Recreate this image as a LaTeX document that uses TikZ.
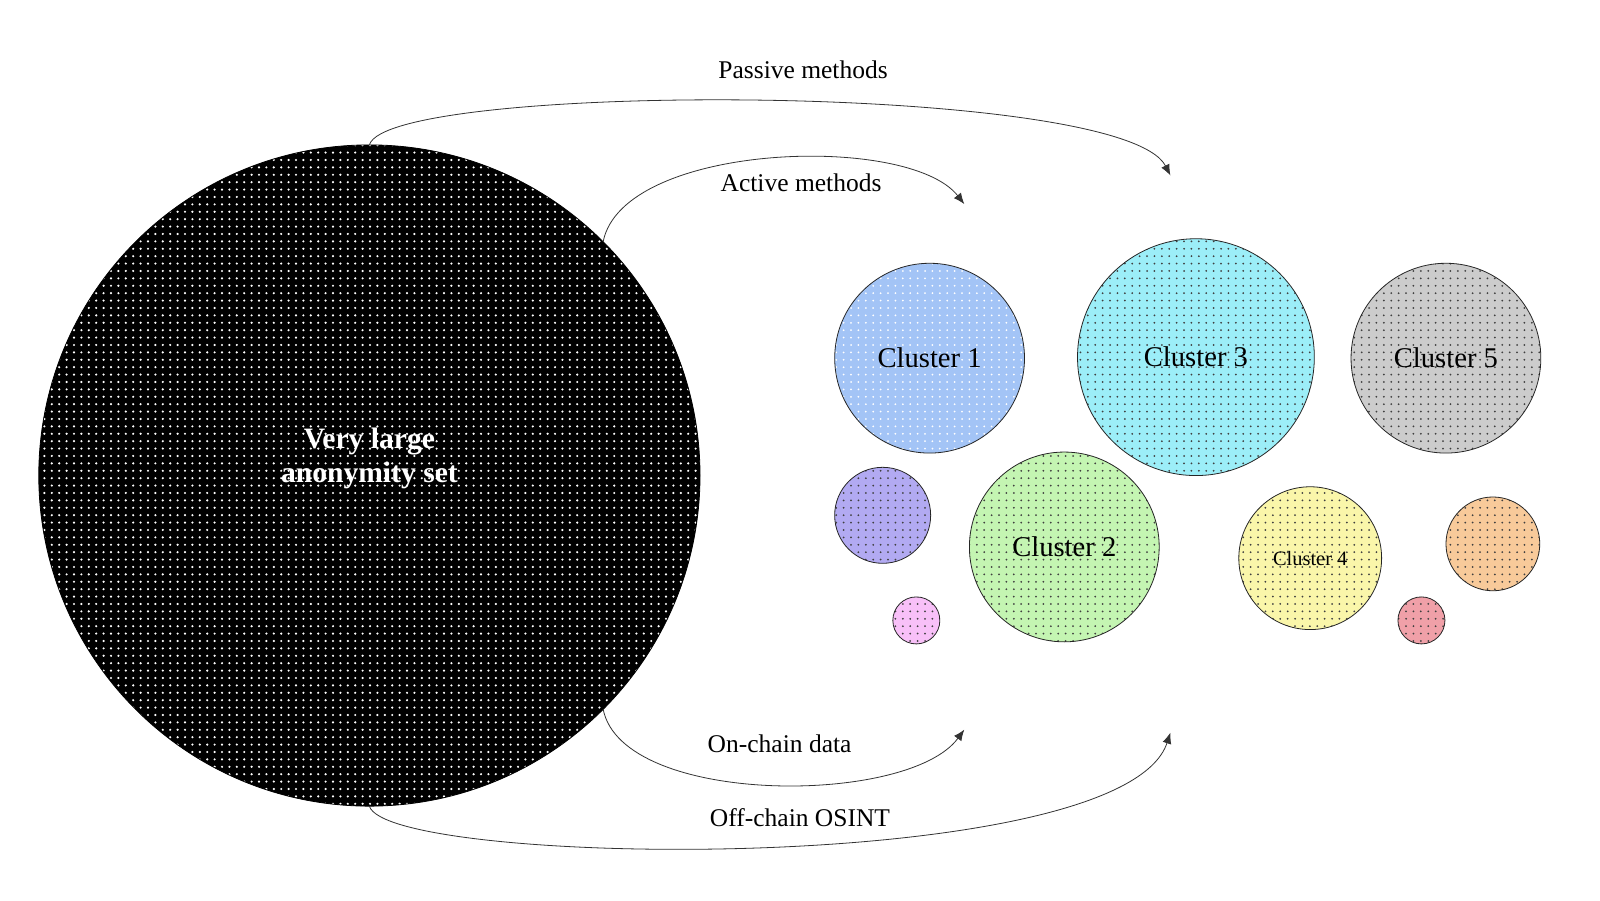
\documentclass[tikz,border=0pt]{standalone}
\usepackage{fontspec}
\setmainfont{Liberation Serif}
\usepackage{tikz}
\usetikzlibrary{arrows.meta, patterns.meta}
\definecolor{bigblack}{RGB}{0,0,0}
\definecolor{cblue}{RGB}{163,196,246}
\definecolor{ccyan}{RGB}{156,238,248}
\definecolor{cgray}{RGB}{204,204,204}
\definecolor{cpurple}{RGB}{178,170,242}
\definecolor{cgreen}{RGB}{196,245,178}
\definecolor{cpink}{RGB}{248,192,248}
\definecolor{cyellow}{RGB}{250,246,170}
\definecolor{corange}{RGB}{248,202,154}
\definecolor{cred}{RGB}{240,160,168}
\tikzset{
	blob/.append style={
		circle,
		draw=black!85,
		line width=0.4pt,
		inner sep=0pt,
		outer sep=0pt,
		align=center,
		font={\fontsize{14.3}{16}\selectfont},
		pattern={Dots[distance=3.7pt, radius=0.5pt]},
		pattern color=black!75,
	},
	labe/.append style={
		align=center,
		inner sep=0pt,
		font={\fontsize{12.75}{14}\selectfont}
	},
	flow/.append style={
		draw=black!80,
		line width=0.4pt,
		-{Latex[length=5.5pt, width=4.5pt]}
	}
}

\begin{document}
\begin{tikzpicture}[x=0.5102pt, y=-0.5102pt]
	\useasboundingbox[fill=white] (0,0) rectangle (1568,882);
	
	% the big set
	\node (big)[blob, minimum size=330.6pt, draw=black, preaction={fill=bigblack}, pattern={Dots[distance=3.7pt, radius=0.6pt]}, pattern color=white] at (362,466) {};
	\node (bigtext)[labe, text=white, font={\fontsize{14.8}{17}\selectfont\bfseries}] at (362,449) {Very large\\anonymity set};
	
	% clusters
	\node (c1)[blob, minimum size=94.9pt, preaction={fill=cblue}, pattern color=white] at (911,351) {Cluster 1};
	\node (c3)[blob, minimum size=118.4pt, preaction={fill=ccyan}] at (1172,350) {Cluster 3};
	\node (c5)[blob, minimum size=94.9pt, preaction={fill=cgray}] at (1417,351) {Cluster 5};
	\node (c2)[blob, minimum size=94.9pt, preaction={fill=cgreen}] at (1043,536) {Cluster 2};
	\node (c4)[blob, minimum size=71.4pt, preaction={fill=cyellow}, font={\fontsize{10.2}{12}\selectfont}] at (1284,547) {Cluster 4};
	\node (purple)[blob, minimum size=48pt, preaction={fill=cpurple}] at (865,505) {};
	\node (pink)[blob, minimum size=23.5pt, preaction={fill=cpink}] at (898,608) {};
	\node (orange)[blob, minimum size=46.9pt, preaction={fill=corange}] at (1463,533) {};
	\node (red)[blob, minimum size=23.5pt, preaction={fill=cred}] at (1393,608) {};
	
	% arrow ends
	\coordinate (passiveEnd) at (1147,172);
	\coordinate (activeEnd) at (945,200);
	\coordinate (onchainEnd) at (945,715);
	\coordinate (offchainEnd) at (1147,718);
	
	\draw[flow] (big.north) .. controls (380,80) and (1100,80) .. (passiveEnd);
	\draw[flow] (big.45) .. controls (610,140) and (890,130) .. (activeEnd);
	\draw[flow] (big.-45) .. controls (610,790) and (890,790) .. (onchainEnd);
	\draw[flow] (big.south) .. controls (380,850) and (1100,860) .. (offchainEnd);
	
	\node (passive)[labe] at (787,68) {Passive methods};
	\node (active)[labe] at (785,179) {Active methods};
	\node (onchain)[labe] at (764,729) {On-chain data};
	\node (offchain)[labe] at (784,801) {Off-chain OSINT};
	
\end{tikzpicture}
\end{document}
